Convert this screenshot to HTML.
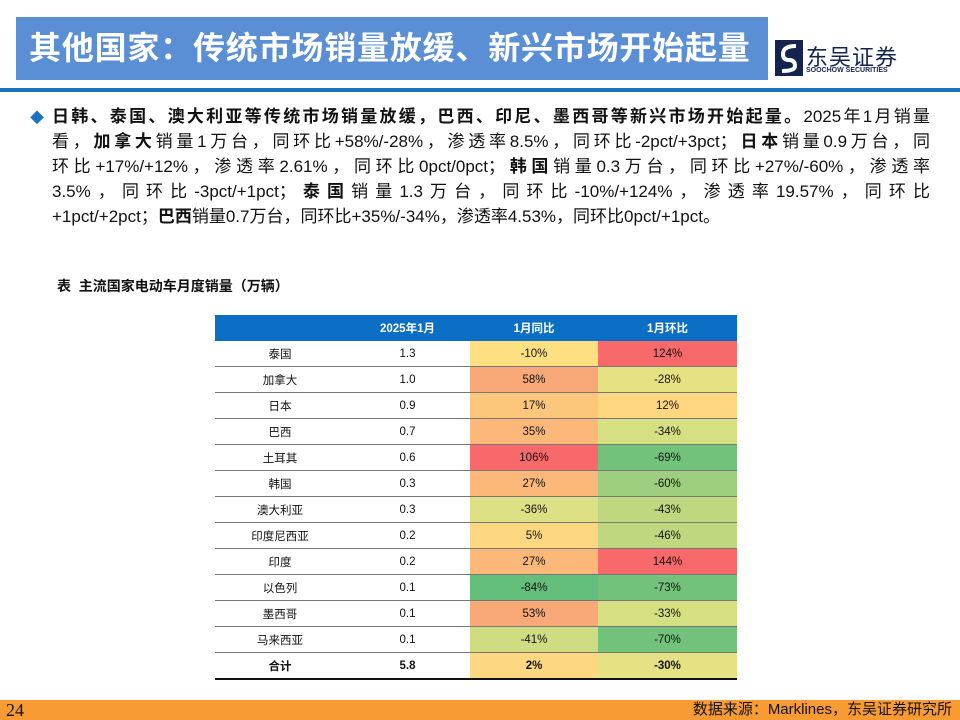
<!DOCTYPE html>
<html><head><meta charset="utf-8"><style>
body{margin:0;width:960px;height:720px;position:relative;background:#fff;font-family:"Liberation Sans","Noto Sans CJK SC",sans-serif;overflow:hidden}
.abs{position:absolute}
#title{left:16px;top:17px;width:752px;height:63px;background:#5b8fd5;color:#fff;font-size:32px;font-weight:bold;line-height:63px;padding-left:13px;box-sizing:border-box;letter-spacing:0.8px}
#rule{left:0;top:88px;width:960px;height:4px;background:#1a73c0}
#body{left:52px;top:104px;width:878px;font-size:17px;line-height:25px;color:#111}
#body div{white-space:nowrap;text-align:justify;text-align-last:justify}
#body div.last{text-align-last:left}
#cap{left:57px;top:276px;font-size:14px;font-weight:bold;color:#111}
table{position:absolute;left:215px;top:315px;width:522px;border-collapse:collapse;font-size:11.5px;color:#111}
th{background:#0a6fc4;color:#fff;height:26px;font-weight:bold;padding:0}
td{height:25px;text-align:center;padding:0;border-bottom:1.3px solid #777}
tr.total td{font-weight:bold;border-bottom:2px solid #111;border-top:1px solid #111}
#footer{left:0;top:700px;width:960px;height:20px;background:#f79b32}
</style></head><body>
<div id="title" class="abs">其他国家：传统市场销量放缓、新兴市场开始起量</div>
<div class="abs" style="left:775px;top:40px;width:28px;height:36px;background:#13254f"><svg width="28" height="36"><path d="M21 6 Q8 6 8 14 Q8 20 14 20 Q20 20 20 26 Q20 31 7 31" stroke="#fff" stroke-width="4" fill="none"/></svg></div>
<div class="abs" style="left:806px;top:40px;font-size:22px;color:#13254f;letter-spacing:1px">东吴证券</div>
<div class="abs" style="left:806px;top:67px;font-size:7px;font-weight:bold;color:#13254f">SOOCHOW SECURITIES</div>
<div id="rule" class="abs"></div>
<div class="abs" style="left:30px;top:108px;color:#1a73c0;font-size:14px">◆</div>
<div id="body" class="abs">
<div><b>日韩、泰国、澳大利亚等传统市场销量放缓，巴西、印尼、墨西哥等新兴市场开始起量。</b>2025年1月销量</div>
<div>看，<b>加拿大</b>销量1万台，同环比+58%/-28%，渗透率8.5%，同环比-2pct/+3pct；<b>日本</b>销量0.9万台，同</div>
<div>环比+17%/+12%，渗透率2.61%，同环比0pct/0pct；<b>韩国</b>销量0.3万台，同环比+27%/-60%，渗透率</div>
<div>3.5%，同环比-3pct/+1pct；<b>泰国</b>销量1.3万台，同环比-10%/+124%，渗透率19.57%，同环比</div>
<div class="last">+1pct/+2pct；<b>巴西</b>销量0.7万台，同环比+35%/-34%，渗透率4.53%，同环比0pct/+1pct。</div>
</div>
<div id="cap" class="abs">表&nbsp; 主流国家电动车月度销量（万辆）</div>
<table><thead><tr>
<th style="width:130px"></th>
<th style="width:125px">2025年1月</th>
<th style="width:128px">1月同比</th>
<th>1月环比</th></tr></thead><tbody id="tb"></tbody></table>
<div id="footer" class="abs"></div>
<div class="abs" style="left:6px;top:700px;font-size:18px;line-height:20px;font-family:'Liberation Serif',serif;color:#111">24</div>
<div class="abs" style="right:8px;top:700px;font-size:15px;line-height:20px;color:#111">数据来源：Marklines，东吴证券研究所</div>
<script>
const countries=["泰国","加拿大","日本","巴西","土耳其","韩国","澳大利亚","印度尼西亚","印度","以色列","墨西哥","马来西亚","合计"];
const sales=["1.3","1.0","0.9","0.7","0.6","0.3","0.3","0.2","0.2","0.1","0.1","0.1","5.8"];
const yoy=[-10,58,17,35,106,27,-36,5,27,-84,53,-41,2];
const mom=[124,-28,12,-34,-69,-60,-43,-46,144,-73,-33,-70,-30];
function yoyColor(v){const s=[[-84,"#63be7b"],[-41,"#cfdc81"],[-36,"#dde083"],[-10,"#fee083"],[2,"#fed880"],[17,"#fcc67b"],[35,"#fbb879"],[58,"#f9a977"],[106,"#f8696b"]];return pick(s,v);}
function momColor(v){const s=[[-73,"#73c27c"],[-60,"#9ecf7f"],[-46,"#bfd880"],[-34,"#d6df82"],[-28,"#e4e283"],[12,"#fed780"],[124,"#f8696b"]];return pick(s,v);}
function pick(s,v){let b=s[0];for(const x of s)if(Math.abs(x[0]-v)<Math.abs(b[0]-v))b=x;return b[1];}
const tb=document.getElementById('tb');
countries.forEach((c,i)=>{
const tr=document.createElement('tr');


if(i===countries.length-1)tr.className='total';
const vals=[c,sales[i],yoy[i]+'%',mom[i]+'%'];
vals.forEach((v,j)=>{const td=document.createElement('td');


td.textContent=v;
if(j===2)td.style.background=yoyColor(yoy[i]);
if(j===3)td.style.background=momColor(mom[i]);
tr.appendChild(td);});
tb.appendChild(tr);});
</script>
</body></html>
